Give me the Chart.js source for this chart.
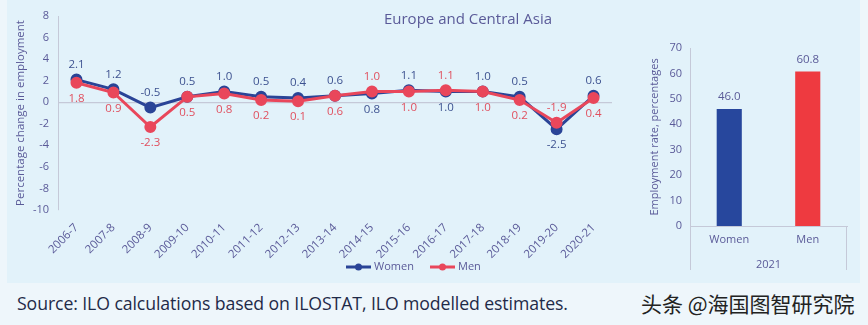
<!DOCTYPE html>
<html>
<head>
<meta charset="utf-8">
<script src="https://cdn.jsdelivr.net/npm/chart.js@4"></script>
<style>
  body { margin: 0; width: 868px; height: 325px; background: #eef6fb; position: relative; overflow: hidden; font-family: 'Open Sans', sans-serif; }
  .panel { position: absolute; left: 7px; top: 0; width: 853px; height: 283px; background: #e2f2fa; }
  #lineWrap { position: absolute; left: 7px; top: 0; width: 633px; height: 283px; }
  #barWrap { position: absolute; left: 640px; top: 0; width: 220px; height: 283px; }
  .source { position: absolute; left: 17px; top: 291px; font-size: 17.7px; color: #1f2a48; letter-spacing: -0.1px; }
  .mark { position: absolute; left: 641px; top: 288px; font-size: 21px; color: #222; font-family: 'Noto Sans CJK SC', sans-serif; }
</style>
</head>
<body>
<div class="panel"></div>
<div id="lineWrap"><canvas id="lineChart" width="633" height="283"></canvas></div>
<div id="barWrap"><canvas id="barChart" width="220" height="283"></canvas></div>
<div class="source">Source: ILO calculations based on ILOSTAT, ILO modelled estimates.</div>
<div class="mark">头条 @海国图智研究院</div>
<script>
const categories = ['2006-7', '2007-8', '2008-9', '2009-10', '2010-11', '2011-12', '2012-13', '2013-14', '2014-15', '2015-16', '2016-17', '2017-18', '2018-19', '2019-20', '2020-21'];
const women = [2.1, 1.2, -0.5, 0.5, 1.0, 0.5, 0.4, 0.6, 0.8, 1.1, 1.0, 1.0, 0.5, -2.5, 0.6];
const men = [1.8, 0.9, -2.3, 0.5, 0.8, 0.2, 0.1, 0.6, 1.0, 1.0, 1.1, 1.0, 0.2, -1.9, 0.4];
const barLabels = ['Women', 'Men'];
const barValues = [46.0, 60.8];
const barYear = '2021';

const blue = '#2a4497';
const red = '#e9475b';
const textCol = '#5a5a98';
const axisCol = '#c5c9d8';

// labels above for the higher series, below for the lower one
const lineLabels = {
    id: 'lineLabels',
    afterDatasetsDraw(chart) {
        const ctx = chart.ctx;
        ctx.save();
        ctx.font = '11.5px "Open Sans"';
        ctx.textAlign = 'center';
        ctx.textBaseline = 'middle';
        chart.data.datasets.forEach((ds, di) => {
            const meta = chart.getDatasetMeta(di);
            const other = chart.data.datasets[1 - di].data;
            meta.data.forEach((pt, i) => {
                const v = ds.data[i];
                const above = di === 0 ? v >= other[i] : v > other[i];
                ctx.fillStyle = di === 0 ? '#3d5290' : '#e0505f';
                ctx.fillText(v.toFixed(1), pt.x, pt.y + (above ? -15 : 16));
            });
        });
        // title
        ctx.fillStyle = textCol;
        ctx.font = '15px "Open Sans"';
        ctx.fillText('Europe and Central Asia', 461, 20);
        // legend
        const items = [['Women', blue, 339], ['Men', red, 423]];
        ctx.font = '11px "Open Sans"';
        ctx.textAlign = 'left';
        items.forEach(([name, col, x]) => {
            ctx.strokeStyle = col;
            ctx.lineWidth = 3;
            ctx.beginPath();
            ctx.moveTo(x, 267);
            ctx.lineTo(x + 25, 267);
            ctx.stroke();
            ctx.fillStyle = col;
            ctx.beginPath();
            ctx.arc(x + 12.5, 267, 3.5, 0, Math.PI * 2);
            ctx.fill();
            ctx.fillStyle = textCol;
            ctx.fillText(name, x + 28, 267);
        });
        ctx.restore();
    }
};

new Chart(document.getElementById('lineChart'), {
    type: 'line',
    data: {
        labels: categories,
        datasets: [
            { label: 'Women', data: women, borderColor: blue, backgroundColor: blue, borderWidth: 3, pointRadius: 4.5, pointHoverRadius: 4.5, order: 1 },
            { label: 'Men', data: men, borderColor: red, backgroundColor: red, borderWidth: 3, pointRadius: 4.5, pointHoverRadius: 4.5, order: 0 }
        ]
    },
    options: {
        responsive: false,
        animation: false,
        layout: { padding: { left: 0, right: 28, top: 16, bottom: 0 } },
        plugins: { legend: { display: false }, tooltip: { enabled: false } },
        scales: {
            x: {
                offset: true,
                grid: { display: false, drawTicks: false },
                border: { display: false },
                ticks: { color: textCol, font: { size: 11.5, family: 'Open Sans' }, minRotation: 45, maxRotation: 45, padding: 11 },
                afterFit: s => { s.height = 73; }
            },
            y: {
                min: -10, max: 8,
                ticks: { stepSize: 2, color: textCol, font: { size: 11, family: 'Open Sans' }, padding: 9 },
                grid: {
                    drawTicks: false,
                    color: c => c.tick && c.tick.value === 0 ? axisCol : 'rgba(0,0,0,0)',
                    lineWidth: 1.2
                },
                border: { display: true, color: axisCol },
                title: { display: true, text: 'Percentage change in employment', color: textCol, font: { size: 11.5, family: 'Open Sans' }, padding: { top: 7, bottom: 0 } },
                afterFit: s => { s.width = 51; }
            }
        }
    },
    plugins: [lineLabels]
});

const barExtras = {
    id: 'barExtras',
    afterDatasetsDraw(chart) {
        const ctx = chart.ctx;
        const a = chart.chartArea;
        ctx.save();
        ctx.strokeStyle = axisCol;
        ctx.lineWidth = 1;
        ctx.beginPath();
        ctx.moveTo(a.left + 0.5, a.bottom);
        ctx.lineTo(a.left + 0.5, 270);
        ctx.moveTo(a.right - 0.5, a.bottom);
        ctx.lineTo(a.right - 0.5, 270);
        ctx.stroke();
        ctx.font = '11.5px "Open Sans"';
        ctx.textAlign = 'center';
        ctx.textBaseline = 'middle';
        ctx.fillStyle = textCol;
        chart.getDatasetMeta(0).data.forEach((bar, i) => {
            ctx.fillText(barValues[i].toFixed(1), bar.x, bar.y - 12);
        });
        ctx.restore();
    }
};

new Chart(document.getElementById('barChart'), {
    type: 'bar',
    data: {
        labels: barLabels,
        datasets: [{ data: barValues, backgroundColor: ['#27479d', '#ee3a40'], categoryPercentage: 1, barPercentage: 0.32 }]
    },
    options: {
        responsive: false,
        animation: false,
        layout: { padding: { left: 0, right: 13, top: 48, bottom: 0 } },
        plugins: { legend: { display: false }, tooltip: { enabled: false } },
        scales: {
            x: {
                grid: { display: false, drawTicks: false },
                border: { display: true, color: axisCol },
                ticks: { color: textCol, font: { size: 11, family: 'Open Sans' }, padding: 7 },
                title: { display: true, text: barYear, color: textCol, font: { size: 11, family: 'Open Sans' }, padding: { top: 0, bottom: 12 } },
                afterFit: s => { s.height = 57; }
            },
            y: {
                min: 0, max: 70,
                ticks: { stepSize: 10, color: textCol, font: { size: 11, family: 'Open Sans' }, padding: 8 },
                grid: { display: false, drawTicks: false },
                border: { display: true, color: axisCol },
                title: { display: true, text: 'Employment rate, percentages', color: textCol, font: { size: 11, family: 'Open Sans' }, padding: { top: 8, bottom: 0 } },
                afterFit: s => { s.width = 50; }
            }
        }
    },
    plugins: [barExtras]
});
</script>
</body>
</html>
